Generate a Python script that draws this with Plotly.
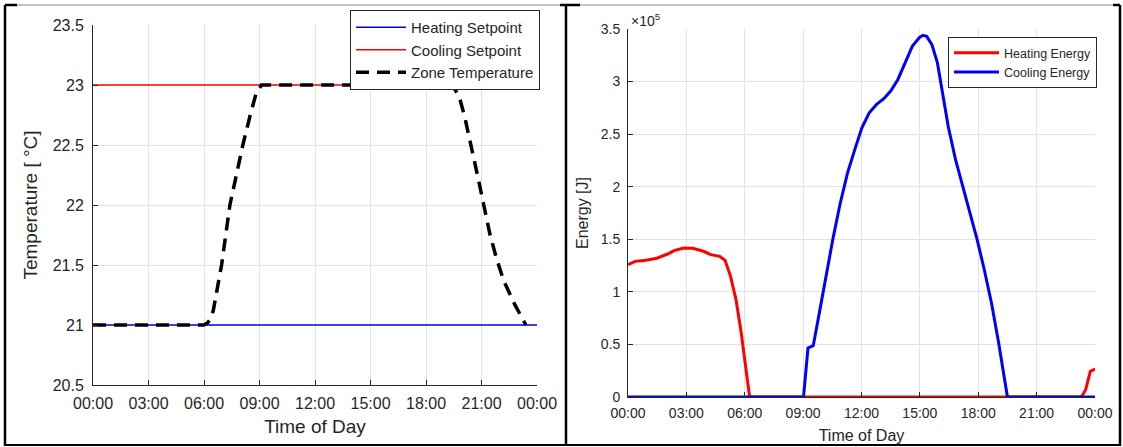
import plotly.graph_objects as go

# ---------------- data ----------------
hour_ticks = [0, 3, 6, 9, 12, 15, 18, 21, 24]
hour_labels = ["00:00", "03:00", "06:00", "09:00", "12:00", "15:00", "18:00", "21:00", "00:00"]

setpoint_hours = [0, 24]
heating_setpoint = [21, 21]
cooling_setpoint = [23, 23]

zone_hours = [0, 6.0, 6.2, 6.35, 6.5, 6.95, 7.4, 7.8, 8.1, 8.5, 8.8, 9.1,
              19.1, 19.5, 19.8, 20.1, 20.5, 20.85, 21.15, 21.45, 21.8, 22.2, 22.8, 23.4]
zone_temp = [21.0, 21.0, 21.02, 21.05, 21.12, 21.5, 22.0, 22.3, 22.5, 22.75, 22.92, 23.0,
             23.0, 22.98, 22.9, 22.73, 22.43, 22.2, 21.98, 21.76, 21.56, 21.37, 21.17, 21.0]

heat_hours = [0, 0.37, 0.92, 1.48, 2.03, 2.4, 2.87, 3.33, 3.88, 4.25, 4.71, 4.99, 5.27,
              5.55, 5.82, 6.01, 6.25, 23.3, 23.52, 23.76, 24.0]
heat_energy = [1.26, 1.29, 1.30, 1.32, 1.36, 1.395, 1.417, 1.414, 1.386, 1.354, 1.338, 1.30, 1.148,
               0.926, 0.609, 0.355, 0.0, 0.0, 0.07, 0.244, 0.266]

cool_hours = [0, 9.02, 9.25, 9.52, 9.8, 10.17, 10.54, 10.91, 11.28, 11.65, 12.02, 12.39, 12.76,
              13.13, 13.5, 13.87, 14.24, 14.61, 14.98, 15.16, 15.35, 15.62, 15.9, 16.18, 16.46,
              16.83, 17.2, 17.57, 17.94, 18.31, 18.68, 19.05, 19.42, 19.5, 24.0]
cool_energy = [0.0, 0.0, 0.466, 0.488, 0.767, 1.148, 1.512, 1.845, 2.13, 2.35, 2.56, 2.70, 2.78,
               2.835, 2.91, 3.02, 3.18, 3.335, 3.42, 3.44, 3.43, 3.35, 3.18, 2.89, 2.57,
               2.26, 2.00, 1.75, 1.50, 1.21, 0.894, 0.514, 0.10, 0.0, 0.0]

# ---------------- figure ----------------
W, H = 1123, 447
FONT = "Liberation Sans, Arial, sans-serif"
TXT = "#262626"

fig = go.Figure()

fig.add_trace(go.Scatter(x=setpoint_hours, y=heating_setpoint, mode="lines", name="Heating Setpoint",
                         line=dict(color="#0000ff", width=1.5), xaxis="x", yaxis="y", legend="legend"))
fig.add_trace(go.Scatter(x=setpoint_hours, y=cooling_setpoint, mode="lines", name="Cooling Setpoint",
                         line=dict(color="#ff0000", width=1.5), xaxis="x", yaxis="y", legend="legend"))
fig.add_trace(go.Scatter(x=zone_hours, y=zone_temp, mode="lines", name="Zone Temperature",
                         line=dict(color="#000000", width=3.5, dash="13px,8px"),
                         xaxis="x", yaxis="y", legend="legend"))

fig.add_trace(go.Scatter(x=heat_hours, y=heat_energy, mode="lines", name="Heating Energy",
                         line=dict(color="#ff0000", width=3), xaxis="x2", yaxis="y2", legend="legend2"))
fig.add_trace(go.Scatter(x=cool_hours, y=cool_energy, mode="lines", name="Cooling Energy",
                         line=dict(color="#0000ff", width=3), xaxis="x2", yaxis="y2", legend="legend2"))


def px_x(p):
    return p / W


def px_y(p):
    return 1 - p / H


common_axis = dict(showline=True, linecolor=TXT, linewidth=1, mirror=False,
                   ticks="inside", ticklen=5, tickcolor=TXT, automargin=False,
                   showgrid=True, gridcolor="#e3e3e3", gridwidth=1, zeroline=False)

fig.update_layout(
    template="none",
    width=W, height=H,
    margin=dict(l=0, r=0, t=0, b=0, pad=0),
    paper_bgcolor="white", plot_bgcolor="white",
    font=dict(family=FONT, color=TXT),
    xaxis=dict(domain=[px_x(93), px_x(537)], range=[0, 24], tickvals=hour_ticks, ticktext=hour_labels,
               tickfont=dict(size=16), ticklabelstandoff=4,
               title=dict(text="Time of Day", font=dict(size=19), standoff=8),
               anchor="y", **common_axis),
    yaxis=dict(domain=[px_y(385), px_y(25)], range=[20.5, 23.5], dtick=0.5,
               tickfont=dict(size=16), ticklabelstandoff=5,
               title=dict(text="Temperature [ °C]", font=dict(size=19), standoff=10),
               anchor="x", **common_axis),
    xaxis2=dict(domain=[px_x(628), px_x(1095)], range=[0, 24], tickvals=hour_ticks, ticktext=hour_labels,
                tickfont=dict(size=14), ticklabelstandoff=3,
                title=dict(text="Time of Day", font=dict(size=16), standoff=10),
                anchor="y2", **common_axis),
    yaxis2=dict(domain=[px_y(397), px_y(29)], range=[0, 3.5], dtick=0.5,
                tickfont=dict(size=14), ticklabelstandoff=4,
                title=dict(text="Energy [J]", font=dict(size=16), standoff=8),
                anchor="x2", **common_axis),
    legend=dict(x=px_x(350), y=px_y(10), xanchor="left", yanchor="top",
                bgcolor="white", bordercolor=TXT, borderwidth=1,
                font=dict(size=15, color=TXT), itemwidth=50, tracegroupgap=0),
    legend2=dict(x=px_x(948), y=px_y(37), xanchor="left", yanchor="top",
                 bgcolor="white", bordercolor=TXT, borderwidth=1,
                 font=dict(size=12.5, color=TXT), itemwidth=45, tracegroupgap=0),
    showlegend=True,
)

fig.add_annotation(text="×10<sup>5</sup>", x=px_x(629), y=px_y(20), xref="paper", yref="paper",
                   xanchor="left", yanchor="middle", showarrow=False, font=dict(size=14, color=TXT))

# table-like frame around both panels
frame = [
    dict(x0=5, y0=5, x1=1120, y1=5, color="#8c8c8c", width=1),
    dict(x0=5, y0=5, x1=5, y1=446, color="black", width=2.5),
    dict(x0=566, y0=5, x1=566, y1=446, color="black", width=2.5),
    dict(x0=1120, y0=5, x1=1120, y1=446, color="black", width=2.5),
    dict(x0=5, y0=445, x1=1120, y1=445, color="black", width=2),
    dict(x0=5, y0=5, x1=17, y1=5, color="black", width=2.5),
    dict(x0=560, y0=5, x1=580, y1=5, color="black", width=2.5),
    dict(x0=1113, y0=5, x1=1120, y1=5, color="black", width=2.5),
]
for s in frame:
    fig.add_shape(type="line", xref="paper", yref="paper",
                  x0=px_x(s["x0"]), y0=px_y(s["y0"]), x1=px_x(s["x1"]), y1=px_y(s["y1"]),
                  line=dict(color=s["color"], width=s["width"]))

fig.write_html("out.html")
